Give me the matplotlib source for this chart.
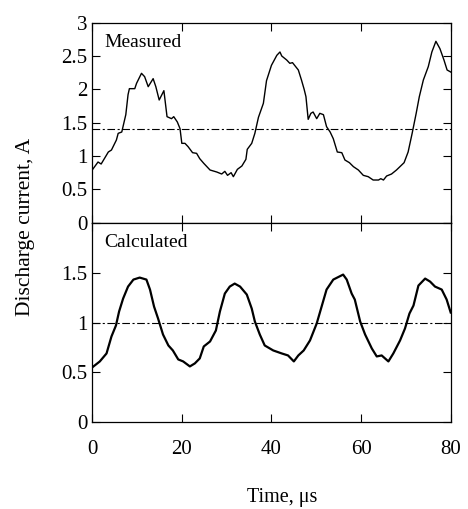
import numpy as np
import matplotlib.pyplot as plt

plt.rcParams['font.family'] = ['Liberation Serif', 'DejaVu Serif']

t_meas = [0.0, 1.3, 2.0, 3.6, 4.3, 5.4, 5.8, 6.6, 7.5, 8.0, 8.3, 9.5, 9.9, 11.0,
          11.7, 12.5, 13.6, 14.2, 14.95, 16.0, 16.7, 17.7, 18.2, 19.0, 19.6, 20.0,
          20.7, 21.4, 22.4, 23.3, 24.0, 24.9, 26.3, 27.8, 28.9, 29.6, 30.2, 31.0,
          31.5, 32.4, 33.4, 34.3, 34.6, 35.6, 36.3, 37.1, 38.2, 38.9, 40.0, 41.2,
          41.9, 42.3, 43.4, 44.1, 44.7, 46.0, 46.7, 47.3, 47.7, 48.2, 48.8, 49.3,
          50.1, 50.8, 51.6, 52.3, 53.1, 53.8, 54.7, 55.7, 56.4, 57.4, 58.3, 59.4,
          60.5, 61.6, 62.7, 63.9, 64.4, 65.0, 65.7, 66.8, 67.9, 69.6, 70.5, 71.4,
          72.3, 73.0, 73.9, 75.0, 75.8, 76.7, 77.6, 78.5, 79.2, 80.0]
i_meas = [0.79, 0.91, 0.88, 1.06, 1.09, 1.24, 1.34, 1.36, 1.62, 1.92, 2.01, 2.01,
          2.09, 2.24, 2.19, 2.04, 2.16, 2.04, 1.84, 1.98, 1.59, 1.56, 1.59, 1.51,
          1.41, 1.19, 1.19, 1.14, 1.05, 1.04, 0.96, 0.89, 0.79, 0.76, 0.73, 0.77,
          0.71, 0.75, 0.69, 0.80, 0.85, 0.95, 1.10, 1.19, 1.34, 1.58, 1.79, 2.13,
          2.36, 2.51, 2.56, 2.50, 2.44, 2.39, 2.40, 2.29, 2.14, 2.00, 1.89, 1.55,
          1.64, 1.66, 1.56, 1.64, 1.62, 1.44, 1.36, 1.26, 1.06, 1.05, 0.94, 0.90,
          0.84, 0.79, 0.71, 0.69, 0.64, 0.64, 0.66, 0.64, 0.70, 0.73, 0.79, 0.90,
          1.06, 1.34, 1.64, 1.89, 2.14, 2.34, 2.56, 2.72, 2.61, 2.44, 2.29, 2.26]

# Berechneter Strom (unten)
t_calc = [0.0, 1.7, 3.2, 4.3, 5.3, 6.0, 6.9, 8.0, 9.2, 10.6, 12.1, 12.9, 13.8,
          14.7, 15.8, 17.0, 18.0, 19.2, 20.3, 21.8, 22.9, 24.0, 24.9, 26.3, 27.6,
          28.5, 29.6, 30.7, 31.8, 33.0, 34.5, 35.6, 36.3, 37.4, 38.5, 40.4, 42.3,
          43.7, 45.0, 46.0, 47.2, 48.6, 50.1, 51.2, 52.3, 53.8, 56.0, 56.8, 57.9,
          58.6, 59.8, 60.9, 62.4, 63.5, 64.6, 66.1, 67.2, 68.7, 69.8, 70.8, 71.7,
          72.8, 74.3, 75.4, 76.5, 78.0, 79.1, 80.0]
i_calc = [0.55, 0.61, 0.69, 0.86, 0.97, 1.11, 1.24, 1.36, 1.43, 1.45, 1.43, 1.33,
          1.16, 1.04, 0.88, 0.77, 0.72, 0.63, 0.61, 0.56, 0.59, 0.64, 0.76, 0.81,
          0.92, 1.11, 1.29, 1.36, 1.39, 1.36, 1.28, 1.14, 1.01, 0.88, 0.77, 0.72,
          0.69, 0.67, 0.61, 0.67, 0.72, 0.82, 0.99, 1.16, 1.33, 1.43, 1.48, 1.43,
          1.29, 1.23, 1.01, 0.88, 0.74, 0.66, 0.67, 0.61, 0.69, 0.82, 0.94, 1.09,
          1.17, 1.37, 1.44, 1.41, 1.36, 1.33, 1.23, 1.10]

mittel_meas = 1.4
mittel_calc = 1.0

fig = plt.figure(figsize=(4.68, 5.09), dpi=100)
ax1 = fig.add_axes([0.197, 0.5625, 0.766, 0.393])
ax2 = fig.add_axes([0.197, 0.1703, 0.766, 0.3922])

dash = (0, (6.9, 2.3, 1.9, 2.3))

ax1.plot(t_meas, i_meas, color='black', lw=1.0)
ax1.axhline(mittel_meas, color='black', lw=0.8, linestyle=dash)
ax1.set_ylim(0, 3)
ax1.set_yticks([0, 0.5, 1, 1.5, 2, 2.5, 3])
ax1.set_yticklabels(['0', '0.5', '1', '1.5', '2', '2.5', '3'])
ax1.text(0.033, 0.945, 'Measured', transform=ax1.transAxes, fontsize=14, va='top')

ax2.plot(t_calc, i_calc, color='black', lw=1.6)
ax2.axhline(mittel_calc, color='black', lw=0.8, linestyle=dash)
ax2.set_ylim(0, 2)
ax2.set_yticks([0, 0.5, 1, 1.5, 2])
ax2.set_yticklabels(['0', '0.5', '1', '1.5', ''])
ax2.text(0.033, 0.945, 'Calculated', transform=ax2.transAxes, fontsize=14, va='top')

for ax in (ax1, ax2):
    ax.set_xlim(0, 80)
    ax.set_xticks([0, 20, 40, 60, 80])
    ax.tick_params(direction='in', top=True, right=True, length=6, width=0.8,
                   labelsize=15)
    ax.tick_params(axis='x', pad=13)
    for s in ax.spines.values():
        s.set_linewidth(0.9)

ax1.tick_params(labelbottom=False)

ax2.set_xlabel('Time, μs', fontsize=14.5)
ax2.xaxis.set_label_coords(0.53, -0.33)
fig.text(0.055, 0.554, 'Discharge current, A', rotation=90, fontsize=15.5,
         ha='center', va='center')

plt.savefig('out.png', dpi=100)
